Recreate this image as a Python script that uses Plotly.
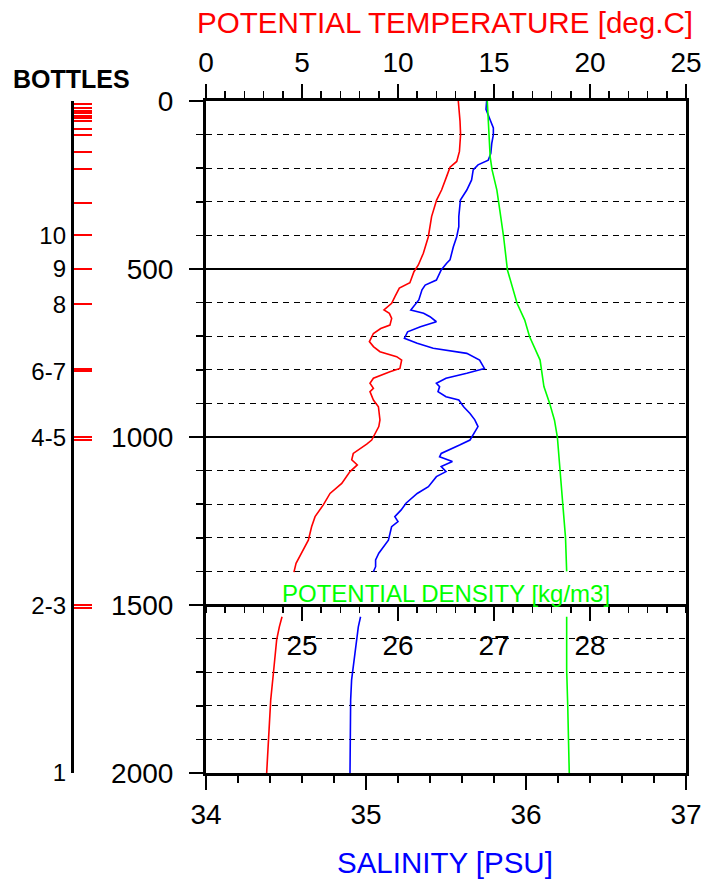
import plotly.graph_objects as go

# ---------------- data ----------------
# Potential temperature profile (deg C); None marks the gap around the density label
temp_depth = [0, 30, 60, 100, 150, 180, 197, 225, 265, 295, 344, 404, 453, 488, 508, 541, 557,
              582, 602, 622, 632, 647, 667, 677, 692, 716, 731, 746, 761, 771, 796, 806, 825,
              840, 855, 865, 890, 910, 949, 969, 999, 1009, 1021, 1049, 1068, 1083, 1103, 1138,
              1168, 1202, 1237, 1267, 1307, 1346, 1376, 1402,
              None,
              1535, 1565, 1604, 1644, 1703, 1783, 1902, 2000]
temp_vals = [13.14, 13.2, 13.23, 13.26, 13.2, 13.06, 12.71, 12.53, 12.27, 12.01, 11.75, 11.58,
             11.32, 11.06, 10.83, 10.62, 10.07, 9.84, 9.67, 9.27, 9.55, 9.67, 9.58, 9.1, 8.72,
             8.51, 8.72, 9.06, 9.93, 10.19, 10.1, 9.58, 8.72, 8.54, 8.72, 8.54, 8.72, 8.98, 9.06,
             9.0, 8.72, 8.63, 8.37, 7.67, 7.59, 7.88, 7.5, 7.07, 6.46, 6.11, 5.68, 5.5, 5.33,
             4.98, 4.69, 4.58,
             None,
             3.96, 3.82, 3.68, 3.6, 3.51, 3.37, 3.25, 3.16]

# Salinity profile (PSU)
sal_depth = [0, 25, 55, 80, 100, 126, 156, 176, 190, 205, 235, 265, 295, 344, 374, 404, 434,
             473, 483, 503, 533, 548, 562, 592, 622, 632, 642, 657, 672, 687, 706, 721, 736,
             751, 771, 796, 810, 825, 840, 850, 865, 880, 890, 910, 930, 949, 969, 984, 1009,
             1024, 1049, 1059, 1073, 1088, 1103, 1118, 1148, 1168, 1197, 1217, 1237, 1252,
             1267, 1307, 1346, 1366, 1386, 1401,
             None,
             1535, 1565, 1644, 1723, 1783, 1900, 2000]
sal_vals = [35.754, 35.75, 35.775, 35.796, 35.796, 35.786, 35.78, 35.764, 35.70, 35.67, 35.66,
            35.63, 35.59, 35.58, 35.58, 35.567, 35.546, 35.525, 35.504, 35.47, 35.44, 35.37,
            35.35, 35.33, 35.28, 35.36, 35.40, 35.44, 35.34, 35.26, 35.24, 35.32, 35.42, 35.63,
            35.71, 35.74, 35.63, 35.50, 35.44, 35.46, 35.45, 35.50, 35.58, 35.61, 35.65, 35.68,
            35.70, 35.68, 35.65, 35.585, 35.47, 35.46, 35.54, 35.47, 35.50, 35.44, 35.39, 35.32,
            35.25, 35.22, 35.18, 35.20, 35.16, 35.14, 35.08, 35.06, 35.06, 35.046,
            None,
            34.966, 34.952, 34.931, 34.91, 34.904, 34.90, 34.90]

# Potential density profile (kg/m3, sigma)
dens_depth = [0, 66, 166, 205, 265, 324, 404, 503, 553, 602, 652, 701, 771, 850, 900, 950, 1000,
              1100, 1200, 1300, 1400,
              None,
              1535, 1693, 1800, 2000]
dens_vals = [26.93, 26.94, 26.96, 26.98, 27.03, 27.06, 27.10, 27.14, 27.19, 27.24, 27.32, 27.37,
             27.48, 27.52, 27.58, 27.63, 27.66, 27.69, 27.72, 27.745, 27.757,
             None,
             27.757, 27.757, 27.768, 27.784]

# Bottle trip depths (m) and labels
bottle_depths = [8, 22, 29, 37, 44, 52, 60, 83, 102, 152, 203, 303, 400, 500, 605,
                 797, 805, 1000, 1008, 1500, 1508]
bottle_label_depths = [400, 500, 605, 805, 1003, 1503, 2000]
bottle_labels = ["10", "9", "8", "6-7", "4-5", "2-3", "1"]

temp_ticks = [0, 5, 10, 15, 20, 25]
sal_ticks = [34, 35, 36, 37]
dens_ticks = [25, 26, 27, 28]
depth_ticks = [0, 500, 1000, 1500, 2000]

# ---------------- figure ----------------
FONT = "Liberation Sans, Arial, Helvetica, sans-serif"
W, H = 705, 879
ML = 206 - 146                # left margin holds the bottle scale
MR = W - 686
MT = 101
MB = H - 773
PW, PH = W - ML - MR, H - MT - MB
x0 = (206 - ML) / PW


def px(xp):
    """window pixel x -> paper x"""
    return (xp - ML) / PW


def py(yp):
    """window pixel y -> paper y"""
    return (H - MB - yp) / PH


fig = go.Figure()
fig.add_trace(go.Scatter(x=temp_vals, y=temp_depth, mode="lines", xaxis="x", yaxis="y",
                         line=dict(color="#ff0000", width=1.6), connectgaps=False,
                         showlegend=False, hoverinfo="skip"))
fig.add_trace(go.Scatter(x=sal_vals, y=sal_depth, mode="lines", xaxis="x2", yaxis="y",
                         line=dict(color="#0000ff", width=1.6), connectgaps=False,
                         showlegend=False, hoverinfo="skip"))
fig.add_trace(go.Scatter(x=dens_vals, y=dens_depth, mode="lines", xaxis="x3", yaxis="y",
                         line=dict(color="#00ff00", width=1.6), connectgaps=False,
                         showlegend=False, hoverinfo="skip"))
# carriers for the bottle axes
fig.add_trace(go.Scatter(x=[None], y=[None], xaxis="x", yaxis="y3", showlegend=False,
                         hoverinfo="skip"))
fig.add_trace(go.Scatter(x=[None], y=[None], xaxis="x", yaxis="y4", showlegend=False,
                         hoverinfo="skip"))

tickfont = dict(family=FONT, size=28, color="black")
common_x = dict(showline=True, linewidth=3, linecolor="black", ticks="outside",
                tickcolor="black", tickwidth=1.5, ticklen=14, showgrid=False,
                zeroline=False, tickfont=tickfont, automargin=False)

fig.update_layout(
    width=W, height=H,
    margin=dict(l=ML, r=MR, t=MT, b=MB, pad=0, autoexpand=False),
    paper_bgcolor="white", plot_bgcolor="white",
    font=dict(family=FONT, color="black"),
    hovermode=False,
    xaxis=dict(domain=[x0, 1], range=[0, 25], side="top", anchor="y",
               tickvals=temp_ticks, ticklabelstandoff=1,
               minor=dict(dtick=1, ticklen=7, tickwidth=1.5, tickcolor="black", ticks="outside"),
               **common_x),
    xaxis2=dict(domain=[x0, 1], range=[34, 37], side="bottom", anchor="y", overlaying="x",
                tickvals=sal_ticks, ticklabelstandoff=0,
                minor=dict(dtick=0.2, tick0=34, ticklen=7, tickwidth=1.5, tickcolor="black",
                           ticks="outside"),
                **common_x),
    xaxis3=dict(domain=[x0, 1], range=[24, 29], side="bottom", anchor="free",
                position=0.25, overlaying="x", tickvals=dens_ticks, ticklabelstandoff=0,
                minor=dict(dtick=0.2, tick0=24, ticklen=6, tickwidth=1.5, tickcolor="black",
                           ticks="outside"),
                **common_x),
    yaxis=dict(domain=[0, 1], range=[2000, 0], anchor="x", side="left",
               tickvals=depth_ticks, ticks="outside", ticklen=14, tickwidth=1.5,
               tickcolor="black", showline=True, linewidth=3, linecolor="black",
               mirror=True, zeroline=False, tickfont=tickfont, ticklabelstandoff=10,
               automargin=False,
               showgrid=True, gridcolor="black", gridwidth=1.5,
               minor=dict(dtick=100, tick0=0, ticks="outside", ticklen=7, tickwidth=1.5,
                          tickcolor="black", showgrid=True, gridcolor="black",
                          gridwidth=1, griddash="6px,5px")),
    yaxis3=dict(range=[2000, 0], overlaying="y", anchor="free", position=px(72),
                side="left", tickvals=bottle_depths, ticktext=[""] * len(bottle_depths),
                ticks="inside", ticklen=18, tickwidth=2, tickcolor="#ff0000",
                showline=True, linewidth=3, linecolor="black", showgrid=False,
                zeroline=False, automargin=False),
    yaxis4=dict(range=[2000, 0], overlaying="y", anchor="free", position=px(72),
                side="left", tickvals=bottle_label_depths, ticktext=bottle_labels,
                ticks="", showline=False, showgrid=False, zeroline=False, automargin=False,
                tickfont=dict(family=FONT, size=24, color="black"), ticklabelstandoff=6),
    annotations=[
        dict(text="POTENTIAL TEMPERATURE [deg.C]", x=px(445), y=py(22), xref="paper",
             yref="paper", xanchor="center", yanchor="middle", showarrow=False,
             font=dict(family=FONT, size=29.6, color="#ff0000")),
        dict(text="SALINITY [PSU]", x=px(445), y=py(862), xref="paper", yref="paper",
             xanchor="center", yanchor="middle", showarrow=False,
             font=dict(family=FONT, size=29.5, color="#0000ff")),
        dict(text="POTENTIAL DENSITY [kg/m3]", x=px(446), y=py(593), xref="paper",
             yref="paper", xanchor="center", yanchor="middle", showarrow=False,
             font=dict(family=FONT, size=24, color="#00ff00")),
        dict(text="<b>BOTTLES</b>", x=px(71), y=py(79), xref="paper", yref="paper",
             xanchor="center", yanchor="middle", showarrow=False,
             font=dict(family=FONT, size=25, color="black")),
    ],
)

# the default page body has an 8px margin; remove it so the figure fills the window exactly
fig.write_html("out.html",
               config={"displayModeBar": False, "staticPlot": True},
               post_script="document.body.style.margin='0';"
                           "document.body.style.overflow='hidden';")
